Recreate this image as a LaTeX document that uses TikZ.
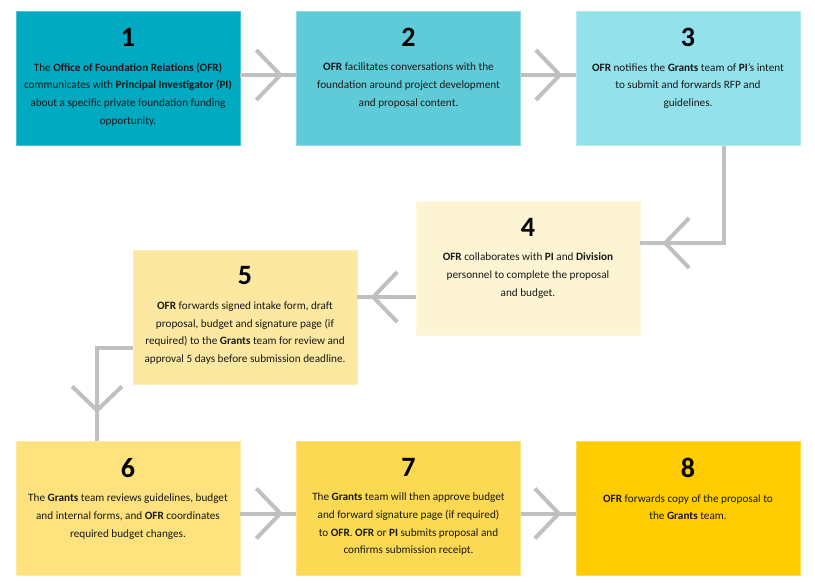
\documentclass[tikz,border=0pt]{standalone}
\usepackage{fontspec}
\setmainfont{Carlito}
\usepackage{tikz}
\usetikzlibrary{positioning,calc,arrows.meta,decorations.markings}

\definecolor{stepA}{RGB}{0,170,193}
\definecolor{stepB}{RGB}{96,203,216}
\definecolor{stepC}{RGB}{146,225,235}
\definecolor{stepD}{RGB}{253,244,212}
\definecolor{stepE}{RGB}{252,232,160}
\definecolor{stepF}{RGB}{253,226,125}
\definecolor{stepG}{RGB}{251,217,82}
\definecolor{stepH}{RGB}{255,204,0}
\definecolor{flowgray}{RGB}{192,192,192}
\definecolor{txtdark}{RGB}{25,25,25}

\begin{document}
\begin{tikzpicture}[
  x=1pt, y=-1pt,
  stepbox/.style={rectangle, fill=#1, draw=#1!70!white, line width=0.8pt, minimum width=224pt, minimum height=134pt, inner sep=0pt},
  stepnum/.style={font=\fontsize{28}{28}\selectfont\bfseries, inner sep=0pt, text=black},
  steptext/.style={align=center, font=\fontsize{11.2}{17.7}\selectfont, inner sep=0pt, text=txtdark},
  flow/.style={draw=flowgray, line width=4pt, miter limit=10, postaction={decorate},
    decoration={markings, mark=at position #1 with {\arrow{Straight Barb[length=24pt,width=50pt]}}}}
]
  \useasboundingbox (0,0) rectangle (815,583);

  % top row
  \node[stepbox=stepA] (s1) at (128,78.5) {};
  \node[stepbox=stepB] (s2) at (408.5,78.5) {};
  \node[stepbox=stepC] (s3) at (688,78.5) {};
  % middle row
  \node[stepbox=stepD] (s4) at (528,268.5) {};
  \node[stepbox=stepE] (s5) at (245,317) {};
  % bottom row
  \node[stepbox=stepF] (s6) at (128,508.5) {};
  \node[stepbox=stepG] (s7) at (408.5,508.5) {};
  \node[stepbox=stepH] (s8) at (688,508.5) {};

  \node[stepnum, below=17pt of s1.north] (n1) {1};
  \node[steptext, below=16pt of n1] (d1) {The \textbf{Office of Foundation Relations (OFR)}\\communicates with \textbf{Principal Investigator (PI)}\\about a specific private foundation funding\\opportunity.};
  \node[stepnum, below=17pt of s2.north] (n2) {2};
  \node[steptext, below=16pt of n2] (d2) {\textbf{OFR} facilitates conversations with the\\foundation around project development\\and proposal content.};
  \node[stepnum, below=17pt of s3.north] (n3) {3};
  \node[steptext, below=16pt of n3] (d3) {\textbf{OFR} notifies the \textbf{Grants} team of \textbf{PI}’s intent\\to submit and forwards RFP and\\guidelines.};
  \node[stepnum, below=17pt of s4.north] (n4) {4};
  \node[steptext, below=16pt of n4] (d4) {\textbf{OFR} collaborates with \textbf{PI} and \textbf{Division}\\personnel to complete the proposal\\and budget.};
  \node[stepnum, below=17pt of s5.north] (n5) {5};
  \node[steptext, below=16pt of n5] (d5) {\textbf{OFR} forwards signed intake form, draft\\proposal, budget and signature page (if\\required) to the \textbf{Grants} team for review and\\approval 5 days before submission deadline.};
  \node[stepnum, below=17pt of s6.north] (n6) {6};
  \node[steptext, below=16pt of n6] (d6) {The \textbf{Grants} team reviews guidelines, budget\\and internal forms, and \textbf{OFR} coordinates\\required budget changes.};
  \node[stepnum, below=17pt of s7.north] (n7) {7};
  \node[steptext, below=16pt of n7] (d7) {The \textbf{Grants} team will then approve budget\\and forward signature page (if required)\\to \textbf{OFR}. \textbf{OFR} or \textbf{PI} submits proposal and\\confirms submission receipt.};
  \node[stepnum, below=17pt of s8.north] (n8) {8};
  \node[steptext, below=16pt of n8] (d8) {\textbf{OFR} forwards copy of the proposal to\\the \textbf{Grants} team.};

  % bends of the flow
  \coordinate (j34) at (724,243);
  \coordinate (j45) at (387,297);
  \coordinate (j56) at (97,348);

  \draw[flow=-13pt] ([yshift=3.5pt]s1.east) -- ([yshift=3.5pt]s2.west);
  \draw[flow=-13pt] ([yshift=3.5pt]s2.east) -- ([yshift=3.5pt]s3.west);
  \draw[flow=-22pt] (s3.south -| j34) -- (j34) -- (s4.east |- j34);
  \draw[flow=-13pt] (s4.west |- j45) -- (s5.east |- j45);
  \draw[flow=-28pt] (s5.west |- j56) -- (j56) -- (s6.north -| j56);
  \draw[flow=-13pt] ([yshift=-5pt]s6.east) -- ([yshift=-5pt]s7.west);
  \draw[flow=-14pt] ([yshift=-5pt]s7.east) -- ([yshift=-5pt]s8.west);
\end{tikzpicture}
\end{document}
